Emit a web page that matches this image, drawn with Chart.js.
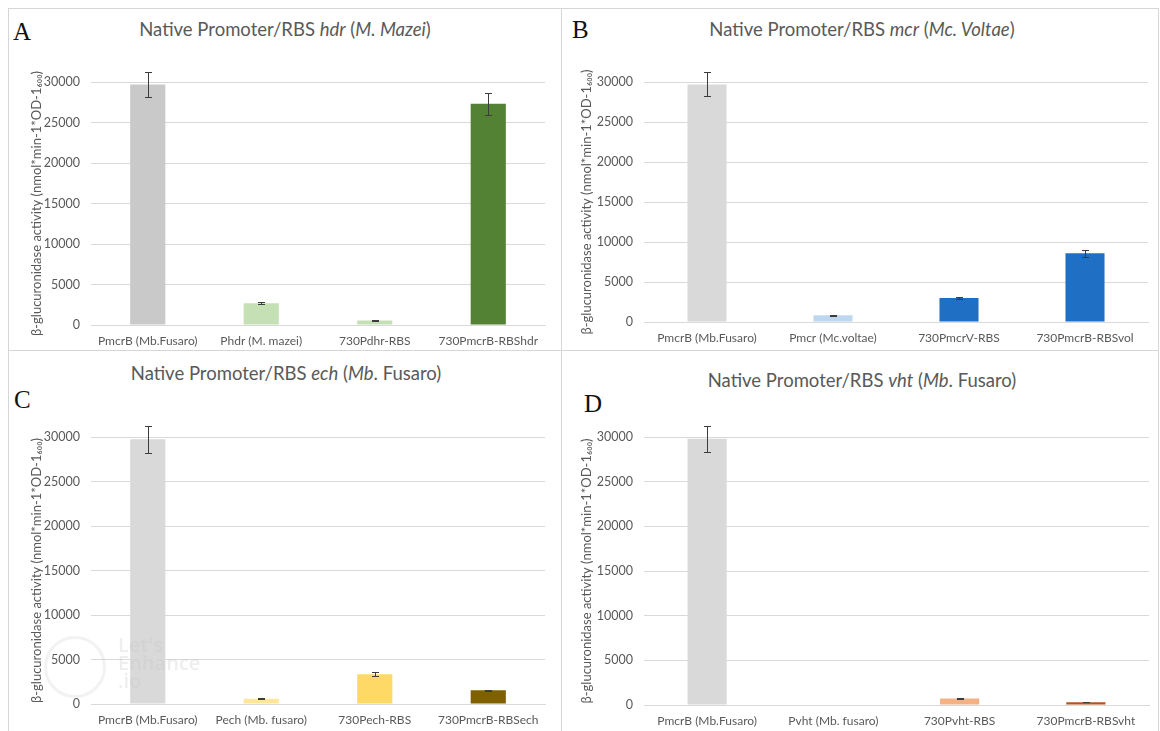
<!DOCTYPE html>
<html>
<head>
<meta charset="utf-8">
<script src="https://cdn.jsdelivr.net/npm/chart.js@4.4.1/dist/chart.umd.min.js"></script>
<style>
  html, body { margin: 0; padding: 0; background: #fff; }
  body { width: 1160px; height: 731px; position: relative; overflow: hidden; font-family: Lato, "Open Sans", sans-serif; }
  .frame { position: absolute; box-sizing: border-box; border: 1px solid #d6d6d6; }
  canvas { position: absolute; }
  .title { position: absolute; color: #595959; font-size: 18.5px; white-space: nowrap; transform: translate(-50%, -50%); }
  .letter { position: absolute; font-family: "Liberation Serif", serif; font-size: 25px; color: #111; transform: translateY(-50%); }
  .mark { position: absolute; color: rgba(200,200,200,0.3); font-family: "Open Sans", sans-serif; font-weight: 600; line-height: 0.9; }
  .ring { position: absolute; border: 3px solid rgba(205,205,205,0.25); border-radius: 50%; }
</style>
</head>
<body>
<div class="frame" style="left:8px;top:8px;width:554px;height:343px"></div>
<div class="frame" style="left:561px;top:8px;width:598px;height:343px"></div>
<div class="frame" style="left:8px;top:350px;width:554px;height:400px"></div>
<div class="frame" style="left:561px;top:350px;width:598px;height:400px"></div>

<div class="letter" style="left:13px;top:32px">A</div>
<div class="letter" style="left:572px;top:30px">B</div>
<div class="letter" style="left:14px;top:400px">C</div>
<div class="letter" style="left:584px;top:404px">D</div>

<div class="title" style="left:285px;top:29px">Native Promoter/RBS <i>hdr</i> (<i>M. Mazei</i>)</div>
<div class="title" style="left:862px;top:29px">Native Promoter/RBS <i>mcr</i> (<i>Mc. Voltae</i>)</div>
<div class="title" style="left:286px;top:373px">Native Promoter/RBS <i>ech</i> (<i>Mb</i>. Fusaro)</div>
<div class="title" style="left:862px;top:380px">Native Promoter/RBS <i>vht</i> (<i>Mb</i>. Fusaro)</div>

<script>
// ---- data -------------------------------------------------------------
const yTitle = 'β-glucuronidase activity (nmol*min-1*OD-1₆₀₀)';
const yTicks = [0, 5000, 10000, 15000, 20000, 25000, 30000];

const catsA = ['PmcrB (Mb.Fusaro)', 'Phdr (M. mazei)', '730Pdhr-RBS', '730PmcrB-RBShdr'];
const valsA = [29700, 2700, 550, 27300];
const errsA = [1500, 80, 60, 1400];

const catsB = ['PmcrB (Mb.Fusaro)', 'Pmcr (Mc.voltae)', '730PmcrV-RBS', '730PmcrB-RBSvol'];
const valsB = [29700, 850, 3000, 8600];
const errsB = [1500, 60, 150, 450];

const catsC = ['PmcrB (Mb.Fusaro)', 'Pech (Mb. fusaro)', '730Pech-RBS', '730PmcrB-RBSech'];
const valsC = [29750, 600, 3350, 1550];
const errsC = [1500, 60, 200, 60];

const catsD = ['PmcrB (Mb.Fusaro)', 'Pvht (Mb. fusaro)', '730Pvht-RBS', '730PmcrB-RBSvht'];
const valsD = [29800, 0, 720, 320];
const errsD = [1450, 0, 70, 30];

// ---- bar colours --------------------------------------------------------
const colorsA = ['#c9c9c9', '#c5e0b4', '#c5e0b4', '#548235'];
const colorsB = ['#d9d9d9', '#bdd7ee', '#1f6fc5', '#1f6fc5'];
const colorsC = ['#d9d9d9', '#ffe699', '#ffd966', '#7f6000'];
const colorsD = ['#d9d9d9', '#f8cbad', '#f4b183', '#b4561a'];

// ---- error bars drawn from each dataset's "errors" list ----------------
const errorBars = {
  id: 'errorBars',
  afterDatasetsDraw(chart) {
    const ds = chart.data.datasets[0];
    const meta = chart.getDatasetMeta(0);
    const y = chart.scales.y;
    const ctx = chart.ctx;
    ctx.save();
    ctx.strokeStyle = '#3c3c3c';
    ctx.lineWidth = 1;
    meta.data.forEach((bar, i) => {
      const e = ds.errors[i];
      if (!e) return;
      const v = ds.data[i];
      const cx = Math.round(bar.x) + 0.5;
      const yt = Math.round(y.getPixelForValue(v + e)) + 0.5;
      const yb = Math.round(y.getPixelForValue(v - e)) + 0.5;
      ctx.beginPath();
      ctx.moveTo(cx, yt); ctx.lineTo(cx, yb);
      ctx.moveTo(cx - 3.5, yt); ctx.lineTo(cx + 3.5, yt);
      ctx.moveTo(cx - 3.5, yb); ctx.lineTo(cx + 3.5, yb);
      ctx.stroke();
    });
    ctx.restore();
  }
};

const FONT = 'Lato, "Open Sans", sans-serif';
const GREY = '#595959';

// box: canvas rectangle on the page; plot: wanted plot-area edges on the page
function drawPanel(box, plot, titleX, cats, vals, errs, colors) {
  const cv = document.createElement('canvas');
  cv.width = box.w; cv.height = box.h;
  cv.style.left = box.x + 'px'; cv.style.top = box.y + 'px';
  cv.style.width = box.w + 'px'; cv.style.height = box.h + 'px';
  document.body.appendChild(cv);

  new Chart(cv, {
    type: 'bar',
    data: {
      labels: cats,
      datasets: [{
        data: vals,
        errors: errs,
        backgroundColor: colors,
        borderWidth: 0,
        barPercentage: 0.31,
        categoryPercentage: 1
      }]
    },
    options: {
      responsive: false,
      animation: false,
      devicePixelRatio: 1,
      layout: { padding: { top: plot.top - box.y, right: box.x + box.w - plot.right, left: 0, bottom: 0 } },
      plugins: { legend: { display: false }, tooltip: { enabled: false }, title: { display: false } },
      scales: {
        x: {
          grid: { display: false, drawTicks: false },
          border: { display: true, color: '#d9d9d9' },
          ticks: { color: GREY, font: { family: FONT, size: 12 }, padding: 9, maxRotation: 0, autoSkip: false },
          afterFit(s) { s.height = box.y + box.h - plot.bottom; }
        },
        y: {
          min: 0, max: 30000,
          afterBuildTicks(s) { s.ticks = yTicks.map(v => ({ value: v })); },
          ticks: { color: GREY, font: { family: FONT, size: 12.5 }, padding: 11, callback: v => String(v) },
          grid: { color: '#d9d9d9', drawTicks: false },
          border: { display: false },
          title: {
            display: true, text: yTitle, color: GREY,
            font: { family: FONT, size: 13 },
            padding: { top: titleX - box.x - 7.8, bottom: 0 }
          },
          afterFit(s) { s.width = plot.left - box.x; }
        }
      }
    },
    plugins: [errorBars]
  });
}

drawPanel({ x: 9, y: 9, w: 552, h: 341 }, { left: 91, right: 545, top: 82, bottom: 325 }, 37, catsA, valsA, errsA, colorsA);
drawPanel({ x: 562, y: 9, w: 596, h: 341 }, { left: 644, right: 1148, top: 82, bottom: 322 }, 587, catsB, valsB, errsB, colorsB);
drawPanel({ x: 9, y: 351, w: 552, h: 380 }, { left: 91, right: 545, top: 437, bottom: 704 }, 37, catsC, valsC, errsC, colorsC);
drawPanel({ x: 562, y: 351, w: 596, h: 380 }, { left: 644, right: 1149, top: 437, bottom: 705 }, 587, catsD, valsD, errsD, colorsD);
</script>

<div class="ring" style="left:44px;top:636px;width:56px;height:56px"></div>
<div class="mark" style="left:118px;top:636px;font-size:20px">Let's<br>Enhance<br>.io</div>
</body>
</html>
